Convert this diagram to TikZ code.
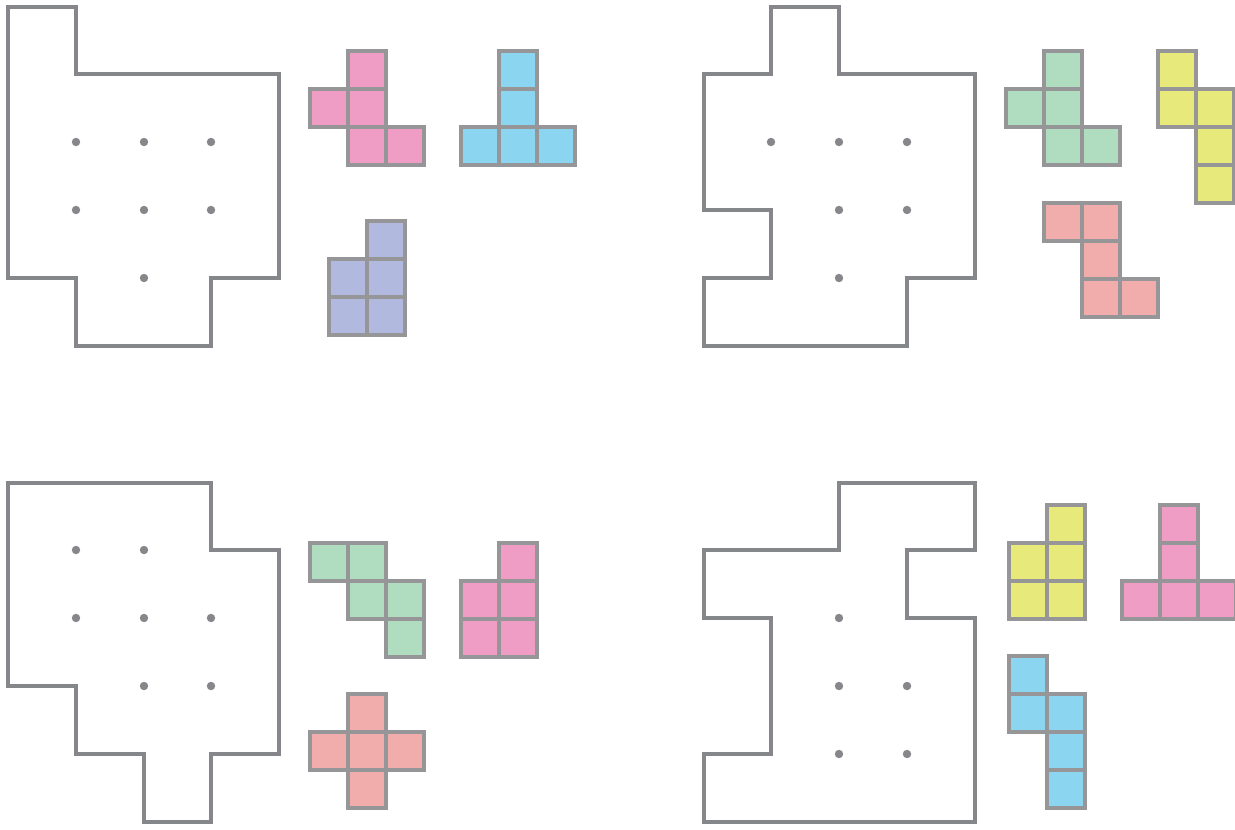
\documentclass[tikz,border=0pt]{standalone}
\definecolor{linegray}{RGB}{134,135,138}
\definecolor{cellgray}{RGB}{150,150,152}
\definecolor{pinkc}{RGB}{239,157,197}
\definecolor{bluec}{RGB}{139,213,241}
\definecolor{purplec}{RGB}{177,185,222}
\definecolor{greenc}{RGB}{176,220,192}
\definecolor{yellowc}{RGB}{231,233,122}
\definecolor{salmonc}{RGB}{241,173,171}
\begin{document}
\begin{tikzpicture}[x=0.02cm, y=-0.02cm, line join=miter,
	board/.style={draw=linegray, line width=1.9pt},
	piece/.style={draw=cellgray, line width=1.8pt},
	dot/.style={fill=linegray}]
	\useasboundingbox (0,0) rectangle (1235,829);
	
	% 1. 左上
	\draw[board] (8,7) -- (76,7) -- (76,74) -- (279,74) -- (279,278) -- (211,278) -- (211,346) -- (76,346) -- (76,278) -- (8,278) -- cycle;
	\foreach \x/\y in {76/142, 144/142, 211/142, 76/210, 144/210, 211/210, 144/278}
		\fill[dot] (\x,\y) circle (2.4pt);
	\foreach \x/\y in {348/51, 310/89, 348/89, 348/127, 386/127}
		\draw[piece, fill=pinkc] (\x,\y) rectangle +(38,38);
	\foreach \x/\y in {499/51, 499/89, 461/127, 499/127, 537/127}
		\draw[piece, fill=bluec] (\x,\y) rectangle +(38,38);
	\foreach \x/\y in {367/221, 329/259, 367/259, 329/297, 367/297}
		\draw[piece, fill=purplec] (\x,\y) rectangle +(38,38);
	
	% 2. 右上
	\draw[board] (771,7) -- (839,7) -- (839,74) -- (975,74) -- (975,278) -- (907,278) -- (907,346) -- (704,346) -- (704,278) -- (771,278) -- (771,210) -- (704,210) -- (704,74) -- (771,74) -- cycle;
	\foreach \x/\y in {771/142, 839/142, 907/142, 839/210, 907/210, 839/278}
		\fill[dot] (\x,\y) circle (2.4pt);
	\foreach \x/\y in {1044/51, 1006/89, 1044/89, 1044/127, 1082/127}
		\draw[piece, fill=greenc] (\x,\y) rectangle +(38,38);
	\foreach \x/\y in {1158/51, 1158/89, 1196/89, 1196/127, 1196/165}
		\draw[piece, fill=yellowc] (\x,\y) rectangle +(38,38);
	\foreach \x/\y in {1044/203, 1082/203, 1082/241, 1082/279, 1120/279}
		\draw[piece, fill=salmonc] (\x,\y) rectangle +(38,38);
	
	% 3. 左下
	\draw[board] (8,483) -- (211,483) -- (211,550) -- (279,550) -- (279,754) -- (211,754) -- (211,822) -- (144,822) -- (144,754) -- (76,754) -- (76,686) -- (8,686) -- cycle;
	\foreach \x/\y in {76/550, 144/550, 76/618, 144/618, 211/618, 144/686, 211/686}
		\fill[dot] (\x,\y) circle (2.4pt);
	\foreach \x/\y in {310/543, 348/543, 348/581, 386/581, 386/619}
		\draw[piece, fill=greenc] (\x,\y) rectangle +(38,38);
	\foreach \x/\y in {499/543, 461/581, 499/581, 461/619, 499/619}
		\draw[piece, fill=pinkc] (\x,\y) rectangle +(38,38);
	\foreach \x/\y in {348/694, 310/732, 348/732, 386/732, 348/770}
		\draw[piece, fill=salmonc] (\x,\y) rectangle +(38,38);
	
	% 4. 右下
	\draw[board] (839,483) -- (975,483) -- (975,550) -- (907,550) -- (907,618) -- (975,618) -- (975,822) -- (704,822) -- (704,754) -- (771,754) -- (771,618) -- (704,618) -- (704,550) -- (839,550) -- cycle;
	\foreach \x/\y in {839/618, 839/686, 907/686, 839/754, 907/754}
		\fill[dot] (\x,\y) circle (2.4pt);
	\foreach \x/\y in {1047/505, 1009/543, 1047/543, 1009/581, 1047/581}
		\draw[piece, fill=yellowc] (\x,\y) rectangle +(38,38);
	\foreach \x/\y in {1160/505, 1160/543, 1122/581, 1160/581, 1198/581}
		\draw[piece, fill=pinkc] (\x,\y) rectangle +(38,38);
	\foreach \x/\y in {1009/656, 1009/694, 1047/694, 1047/732, 1047/770}
		\draw[piece, fill=bluec] (\x,\y) rectangle +(38,38);
\end{tikzpicture}
\end{document}
